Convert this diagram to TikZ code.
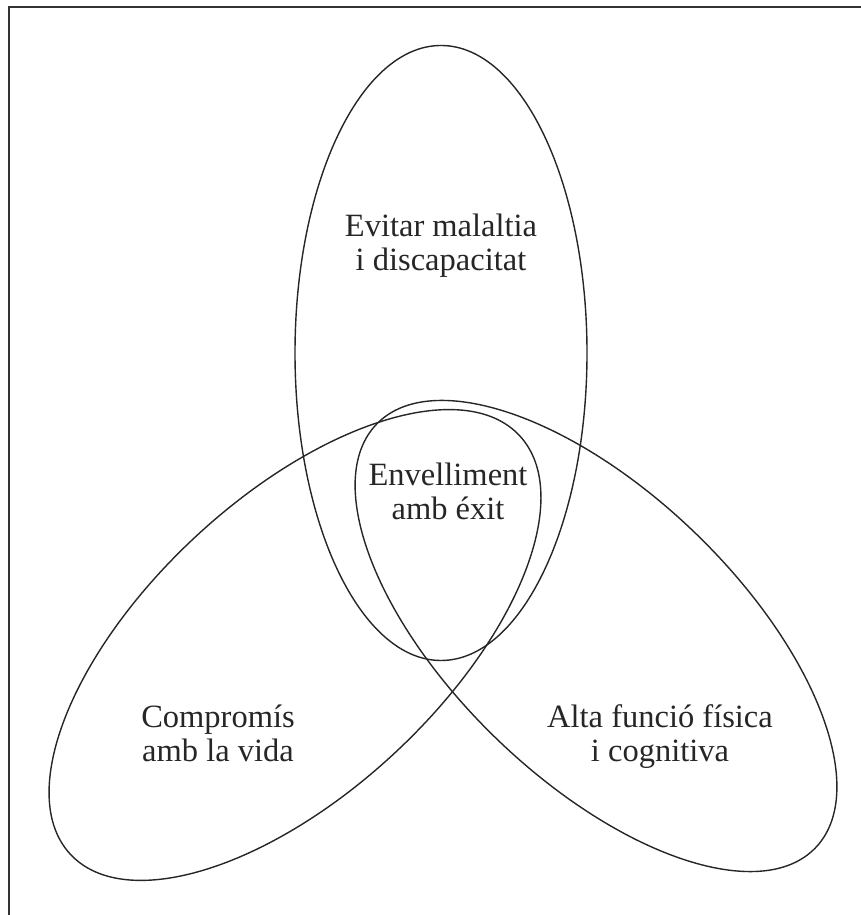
\documentclass[tikz,border=0pt]{standalone}
\usepackage{fontspec}
\setmainfont{Liberation Serif}
\usepackage{tikz}

\begin{document}
\begin{tikzpicture}[x=1pt,y=1pt,
	ring/.style={line width=1.4pt,black!85},
	lbl/.style={align=center,inner sep=0pt,font=\fontsize{32.5}{34}\selectfont,text=black!85}]
	\useasboundingbox (0,0) rectangle (861,915);
	\draw[line width=1.2pt,black!80] (9,-5)--(9,908)--(870,908);
	\coordinate (V) at (441,562);
	\coordinate (L) at (295,270);
	\coordinate (R) at (596,279);
	\draw[ring] (V) ellipse [x radius=146,y radius=307.5];
	\draw[ring,rotate around={43:(L)}] (L) ellipse [x radius=307,y radius=147];
	\draw[ring,rotate around={-44:(R)}] (R) ellipse [x radius=305,y radius=143];

	\node[lbl] (top) at (441,669) {Evitar malaltia\\i discapacitat};
	\node[lbl] (mid) at (448,423.5) {Envelliment\\amb éxit};
	\node[lbl] (left) at (218,181.5) {Compromís\\amb la vida};
	\node[lbl] (right) at (660,178) {Alta funció física\\i cognitiva};
\end{tikzpicture}
\end{document}
